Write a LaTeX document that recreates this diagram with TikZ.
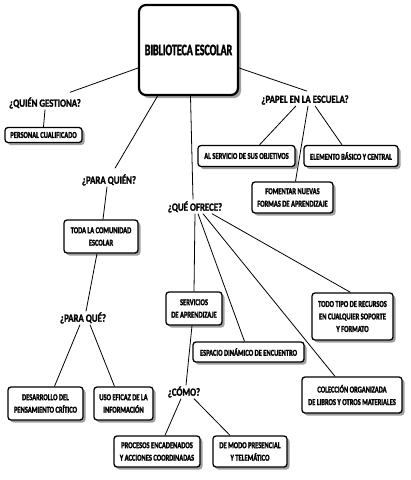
\documentclass[tikz,border=0pt]{standalone}
\usepackage{fontspec}
\newfontfamily\boxfont{Carlito}[UprightFont=* Bold, BoldFont=* Bold, FakeStretch=0.72, FakeBold=2]
\newfontfamily\qfont{Carlito}[UprightFont=* Bold, BoldFont=* Bold, FakeStretch=0.8, FakeBold=1.5]
\newfontfamily\titfont{Carlito}[UprightFont=* Bold, BoldFont=* Bold, FakeStretch=0.62, FakeBold=2]
\usetikzlibrary{shadows}
\tikzset{
  box/.style={draw, rounded corners=3pt, line width=1.3pt, fill=white,
    drop shadow={shadow xshift=2.5pt, shadow yshift=-2.5pt, fill=black!75},
    align=center, inner sep=1pt,
    font=\boxfont\fontsize{9}{12.5}\selectfont},
  mainbox/.style={draw, rounded corners=7pt, line width=2.2pt, fill=white,
    drop shadow={shadow xshift=3pt, shadow yshift=-3pt, fill=black!75},
    align=center, inner sep=1pt,
    font=\titfont\fontsize{16}{18}\selectfont},
  quest/.style={inner sep=1pt, font=\qfont\fontsize{11}{12}\selectfont},
  link/.style={line width=0.8pt}
}
\begin{document}
\begin{tikzpicture}[x=1pt,y=-1pt]
\fill[white] (0,0) rectangle (411,480);
\useasboundingbox (0,0) rectangle (411,480);
% main
\node[mainbox, minimum width=99pt, minimum height=90pt] (main) at (188.5,50) {BIBLIOTECA ESCOLAR};
% questions
\node[quest] (quien) at (45,103) {¿QUIÉN GESTIONA?};
\node[quest] (paraquien) at (109,180) {¿PARA QUIÉN?};
\node[quest] (queofrece) at (195,207) {¿QUÉ OFRECE?};
\node[quest] (papel) at (305,100) {¿PAPEL EN LA ESCUELA?};
\node[quest] (paraque) at (83,318) {¿PARA QUÉ?};
\node[quest] (como) at (184,392) {¿CÓMO?};
% boxes
\node[box, minimum width=77pt, minimum height=15pt] (personal) at (43.5,135) {PERSONAL CUALIFICADO};
\node[box, minimum width=97pt, minimum height=21pt] (alserv) at (246.5,156) {AL SERVICIO DE SUS OBJETIVOS};
\node[box, minimum width=94pt, minimum height=21pt] (elemento) at (351,156) {ELEMENTO BÁSICO Y CENTRAL};
\node[box, minimum width=81pt, minimum height=31pt] (fomentar) at (292.5,197.5) {FOMENTAR NUEVAS\\FORMAS DE APRENDIZAJE};
\node[box, minimum width=74pt, minimum height=33pt] (toda) at (101,236.5) {TODA LA COMUNIDAD\\ESCOLAR};
\node[box, minimum width=75pt, minimum height=33pt] (desarrollo) at (45.5,403.5) {DESARROLLO DEL\\PENSAMIENTO CRÍTICO};
\node[box, minimum width=59pt, minimum height=33pt] (uso) at (123.5,403.5) {USO EFICAZ DE LA\\INFORMACIÓN};
\node[box, minimum width=56pt, minimum height=33pt] (servicios) at (194,308.5) {SERVICIOS\\DE APRENDIZAJE};
\node[box, minimum width=111pt, minimum height=20pt] (espacio) at (248.5,352) {ESPACIO DINÁMICO DE ENCUENTRO};
\node[box, minimum width=100pt, minimum height=36pt] (coleccion) at (352,395) {COLECCIÓN ORGANIZADA\\DE LIBROS Y OTROS MATERIALES};
\node[box, minimum width=81pt, minimum height=47pt] (todo) at (352.5,316.5) {TODO TIPO DE RECURSOS\\EN CUALQUIER SOPORTE\\Y FORMATO};
\node[box, minimum width=86pt, minimum height=31pt] (procesos) at (157,451.5) {PROCESOS ENCADENADOS\\Y ACCIONES COORDINADAS};
\node[box, minimum width=74pt, minimum height=31pt] (demodo) at (250,451.5) {DE MODO PRESENCIAL\\Y TELEMÁTICO};
% links
\draw[link] (main) -- ([xshift=25pt,yshift=4pt]quien.north);
\draw[link] (quien.south) -- (personal.north);
\draw[link] ([xshift=-31pt]main.south) -- ([xshift=6pt,yshift=5pt]paraquien.north);
\draw[link] ([xshift=2pt]main.south) -- ([xshift=-2pt,yshift=1pt]queofrece.north);
\draw[link] ([yshift=-18pt]main.east) -- ([xshift=2pt,yshift=3pt]papel.north);
\draw[link] ([xshift=-9pt]papel.south) -- ([xshift=13pt]alserv.north);
\draw[link] ([xshift=3pt]papel.south) -- ([xshift=3pt]fomentar.north);
\draw[link] ([xshift=10pt]papel.south) -- ([xshift=-9pt]elemento.north);
\draw[link] ([xshift=-2pt]paraquien.south) -- ([xshift=2pt]toda.north);
\draw[link] ([xshift=-4pt]toda.south) -- ([xshift=3pt]paraque.north);
\draw[link] ([xshift=-3pt]paraque.south) -- ([xshift=9pt]desarrollo.north);
\draw[link] ([xshift=7pt]paraque.south) -- ([xshift=-9pt]uso.north);
\draw[link] (queofrece.south) -- (servicios.north);
\draw[link] ([xshift=3pt]queofrece.south) -- ([xshift=-4pt]espacio.north);
\draw[link] ([xshift=8pt]queofrece.south) -- ([xshift=-17pt]coleccion.north);
\draw[link] ([xshift=17pt]queofrece.south) -- ([xshift=-2pt]todo.north);
\draw[link] ([xshift=-2pt]servicios.south) -- ([xshift=2pt]como.north);
\draw[link] ([xshift=-3pt]como.south) -- ([xshift=8pt]procesos.north);
\draw[link] ([xshift=10pt]como.south) -- ([xshift=-20pt]demodo.north);
\end{tikzpicture}
\end{document}
